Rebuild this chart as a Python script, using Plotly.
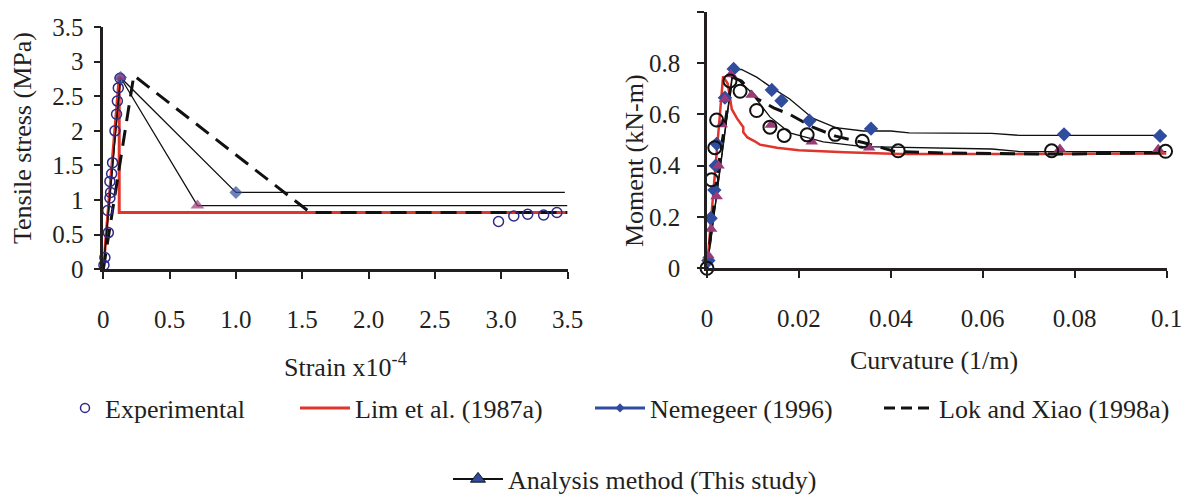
import plotly.graph_objects as go

FONT = "Liberation Serif"
INK = "#231f20"
NAVY = "#2e2a86"
RED = "#e0352b"
BLUE = "#2f4c9e"
PURPLE = "#9a3a78"
W, H = 1189, 499

# ---- Direct tension: stress vs. strain (x10^-4) ----
exp_strain = [0.005, 0.012, 0.038, 0.033, 0.05, 0.055, 0.05, 0.063, 0.07, 0.088,
              0.1, 0.106, 0.113, 0.126, 2.98, 3.095, 3.2, 3.32, 3.42]
exp_stress = [0.06, 0.17, 0.53, 0.85, 1.03, 1.11, 1.27, 1.38, 1.54, 2.0,
              2.24, 2.43, 2.62, 2.76, 0.69, 0.77, 0.795, 0.785, 0.82]

lim_strain = [0, 0.12, 0.12, 3.5]
lim_stress = [0, 2.78, 0.82, 0.82]

nem_strain = [0, 0.13, 1.0, 3.48]
nem_stress = [0, 2.77, 1.11, 1.11]
nem_marker = [0, 10, 10, 0]

lok_strain = [0, 0.23, 1.56, 3.5]
lok_stress = [0, 2.8, 0.82, 0.82]

ana_strain = [0, 0.13, 0.71, 3.5]
ana_stress = [0, 2.77, 0.92, 0.92]
ana_marker = [0, 10, 12, 0]

# ---- Flexure: moment vs. curvature ----
exp_curv = [0, 0.001, 0.0017, 0.0021, 0.005, 0.0072, 0.0108, 0.0137, 0.0168,
            0.0218, 0.0279, 0.0338, 0.0416, 0.075, 0.0998]
exp_moment = [0, 0.345, 0.47, 0.578, 0.73, 0.69, 0.615, 0.55, 0.518,
              0.52, 0.522, 0.495, 0.458, 0.458, 0.456]

lim_curv = [0, 0.0035, 0.0045, 0.0054, 0.0065, 0.0079, 0.0079, 0.0088, 0.0104,
            0.0115, 0.0152, 0.02, 0.03, 0.042, 0.07, 0.1]
lim_moment = [0, 0.748, 0.72, 0.62, 0.585, 0.55, 0.53, 0.51, 0.495,
              0.482, 0.47, 0.46, 0.452, 0.445, 0.445, 0.447]

nem_curv = [0, 0.0057, 0.0075, 0.0108, 0.014, 0.018, 0.023, 0.028, 0.034,
            0.04, 0.044, 0.062, 0.068, 0.1]
nem_moment = [0, 0.77, 0.775, 0.745, 0.705, 0.66, 0.585, 0.548, 0.535,
              0.535, 0.528, 0.526, 0.518, 0.518]
nem_pt_curv = [0.0003, 0.0008, 0.0016, 0.0019, 0.0021, 0.0039, 0.0058, 0.0141,
               0.0162, 0.0223, 0.0357, 0.0777, 0.0986]
nem_pt_moment = [0.03, 0.195, 0.305, 0.4, 0.485, 0.665, 0.777, 0.695,
                 0.653, 0.575, 0.544, 0.522, 0.516]

lok_curv = [0, 0.0025, 0.0055, 0.0075, 0.011, 0.0145, 0.018, 0.023, 0.028,
            0.034, 0.041, 0.05, 0.075, 0.1]
lok_moment = [0, 0.4, 0.745, 0.73, 0.66, 0.625, 0.6, 0.55, 0.515,
              0.49, 0.455, 0.45, 0.445, 0.45]

ana_curv = [0, 0.0055, 0.0094, 0.0137, 0.018, 0.0253, 0.034, 0.045, 0.062,
            0.068, 0.1]
ana_moment = [0, 0.755, 0.69, 0.59, 0.528, 0.493, 0.474, 0.47, 0.465,
              0.455, 0.455]
ana_pt_curv = [0.0003, 0.0009, 0.0021, 0.0025, 0.0032, 0.0039, 0.0052, 0.0097,
               0.0139, 0.0228, 0.0353, 0.0768, 0.0982]
ana_pt_moment = [0.05, 0.153, 0.28, 0.4, 0.56, 0.66, 0.755, 0.675,
                 0.558, 0.493, 0.47, 0.465, 0.464]

# ---- tick labels ----
strain_ticks = [0, 0.5, 1.0, 1.5, 2.0, 2.5, 3.0, 3.5]
strain_labels = ["0", "0.5", "1.0", "1.5", "2.0", "2.5", "3.0", "3.5"]
stress_ticks = [0, 0.5, 1, 1.5, 2, 2.5, 3, 3.5]
stress_labels = ["0", "0.5", "1", "1.5", "2", "2.5", "3", "3.5"]
curv_ticks = [0, 0.02, 0.04, 0.06, 0.08, 0.1]
curv_labels = ["0", "0.02", "0.04", "0.06", "0.08", "0.1"]
moment_ticks = [0, 0.2, 0.4, 0.6, 0.8, 1]
moment_labels = ["0", "0.2", "0.4", "0.6", "0.8", "1"]

fig = go.Figure()

def line(x, y, ax, color, width, dash="solid"):
    fig.add_trace(go.Scatter(x=x, y=y, mode="lines", xaxis=ax[0], yaxis=ax[1],
                             line=dict(color=color, width=width, dash=dash),
                             showlegend=False, cliponaxis=False, hoverinfo="skip"))

def pts(x, y, ax, symbol, color, size, lw=0, lc=None):
    fig.add_trace(go.Scatter(x=x, y=y, mode="markers", xaxis=ax[0], yaxis=ax[1],
                             marker=dict(symbol=symbol, color=color, size=size,
                                         line=dict(width=lw, color=lc or color)),
                             showlegend=False, cliponaxis=False, hoverinfo="skip"))

L = ("x", "y")
R = ("x2", "y2")

# left panel
line(lim_strain, lim_stress, L, RED, 3)
line(nem_strain, nem_stress, L, "#111111", 1.3)
line(ana_strain, ana_stress, L, "#111111", 1.3)
line(lok_strain, lok_stress, L, "#111111", 3, dash="16px,9px")
pts(exp_strain, exp_stress, L, "circle-open", NAVY, 10, lw=1.5)
pts(nem_strain, nem_stress, L, "diamond", BLUE, nem_marker)
pts(ana_strain, ana_stress, L, "triangle-up", PURPLE, ana_marker)

# right panel
line(lim_curv, lim_moment, R, RED, 2.5)
line(nem_curv, nem_moment, R, "#111111", 1.3)
line(ana_curv, ana_moment, R, "#111111", 1.3)
line(lok_curv, lok_moment, R, "#111111", 3, dash="15px,9px")
pts(nem_pt_curv, nem_pt_moment, R, "diamond", BLUE, 11)
pts(ana_pt_curv, ana_pt_moment, R, "triangle-up", PURPLE, 11)
pts(exp_curv, exp_moment, R, "circle-open", "#111111", 13, lw=2)

# legend entries
legend_items = [
    ("Experimental", "legend", dict(mode="markers", marker=dict(symbol="circle-open", color=NAVY, size=9, line=dict(width=1.5)))),
    ("Lim et al. (1987a)", "legend2", dict(mode="lines", line=dict(color=RED, width=3))),
    ("Nemegeer (1996)", "legend3", dict(mode="lines+markers", line=dict(color=BLUE, width=3),
                                        marker=dict(symbol="diamond", color=BLUE, size=7))),
    ("Lok and Xiao (1998a)", "legend4", dict(mode="lines", line=dict(color="#111111", width=3, dash="11px,6px"))),
    ("Analysis method (This study)", "legend5", dict(mode="lines+markers", line=dict(color="#111111", width=2),
                                                    marker=dict(symbol="triangle-up", color=BLUE, size=13,
                                                                line=dict(color="#111111", width=1)))),
]
for name, lg, style in legend_items:
    fig.add_trace(go.Scatter(x=[None], y=[None], name=name, legend=lg, showlegend=True, **style))

text_start = {"legend": 107, "legend2": 357, "legend3": 652, "legend4": 941, "legend5": 510}
symbol_width = {"legend": 30, "legend2": 50, "legend3": 50, "legend4": 50, "legend5": 50}
row_y = {"legend": 408, "legend2": 408, "legend3": 408, "legend4": 408, "legend5": 479}
legend_layout = {}
for key in text_start:
    legend_layout[key] = dict(x=(text_start[key] - 12 - symbol_width[key]) / W, y=1 - row_y[key] / H,
                              xanchor="left", yanchor="middle", bgcolor="rgba(0,0,0,0)",
                              itemwidth=symbol_width[key],
                              font=dict(family=FONT, size=26, color=INK), borderwidth=0)

axis_common = dict(showline=True, linecolor=INK, linewidth=2.5, ticks="outside", ticklen=7,
                   tickwidth=2, tickcolor=INK, showgrid=False, zeroline=False,
                   tickfont=dict(family=FONT, size=25, color=INK), automargin=False,
                   fixedrange=True)

fig.update_layout(
    width=W, height=H, margin=dict(l=0, r=0, t=0, b=0, autoexpand=False),
    plot_bgcolor="white", paper_bgcolor="white", showlegend=True,
    xaxis=dict(domain=[103.3 / W, 567.5 / W], range=[0, 3.5], anchor="y",
               tickvals=strain_ticks, ticktext=strain_labels, ticklabelstandoff=19, **axis_common),
    yaxis=dict(domain=[1 - 269.3 / H, 1 - 27 / H], range=[0, 3.5], anchor="x",
               tickvals=stress_ticks, ticktext=stress_labels, ticklabelstandoff=5, **axis_common),
    xaxis2=dict(domain=[707 / W, 1166.5 / W], range=[0, 0.1], anchor="y2",
                tickvals=curv_ticks, ticktext=curv_labels, ticklabelstandoff=19, **axis_common),
    yaxis2=dict(domain=[1 - 268.3 / H, 1 - 11.7 / H], range=[0, 1], anchor="x2",
                tickvals=moment_ticks, ticktext=moment_labels, ticklabelstandoff=12, **axis_common),
    **legend_layout,
)

title_font = dict(family=FONT, size=26, color=INK)
fig.add_annotation(text="Strain x10<sup>-4</sup>", x=345 / W, y=1 - 365 / H, xref="paper", yref="paper",
                   showarrow=False, font=title_font, xanchor="center", yanchor="middle")
fig.add_annotation(text="Curvature (1/m)", x=934 / W, y=1 - 360 / H, xref="paper", yref="paper",
                   showarrow=False, font=title_font, xanchor="center", yanchor="middle")
fig.add_annotation(text="Tensile stress (MPa)", x=22 / W, y=1 - 138 / H, xref="paper", yref="paper",
                   showarrow=False, font=title_font, textangle=-90, xanchor="center", yanchor="middle")
fig.add_annotation(text="Moment (kN-m)", x=634 / W, y=1 - 161 / H, xref="paper", yref="paper",
                   showarrow=False, font=title_font, textangle=-90, xanchor="center", yanchor="middle")

fig.write_html("out.html")
